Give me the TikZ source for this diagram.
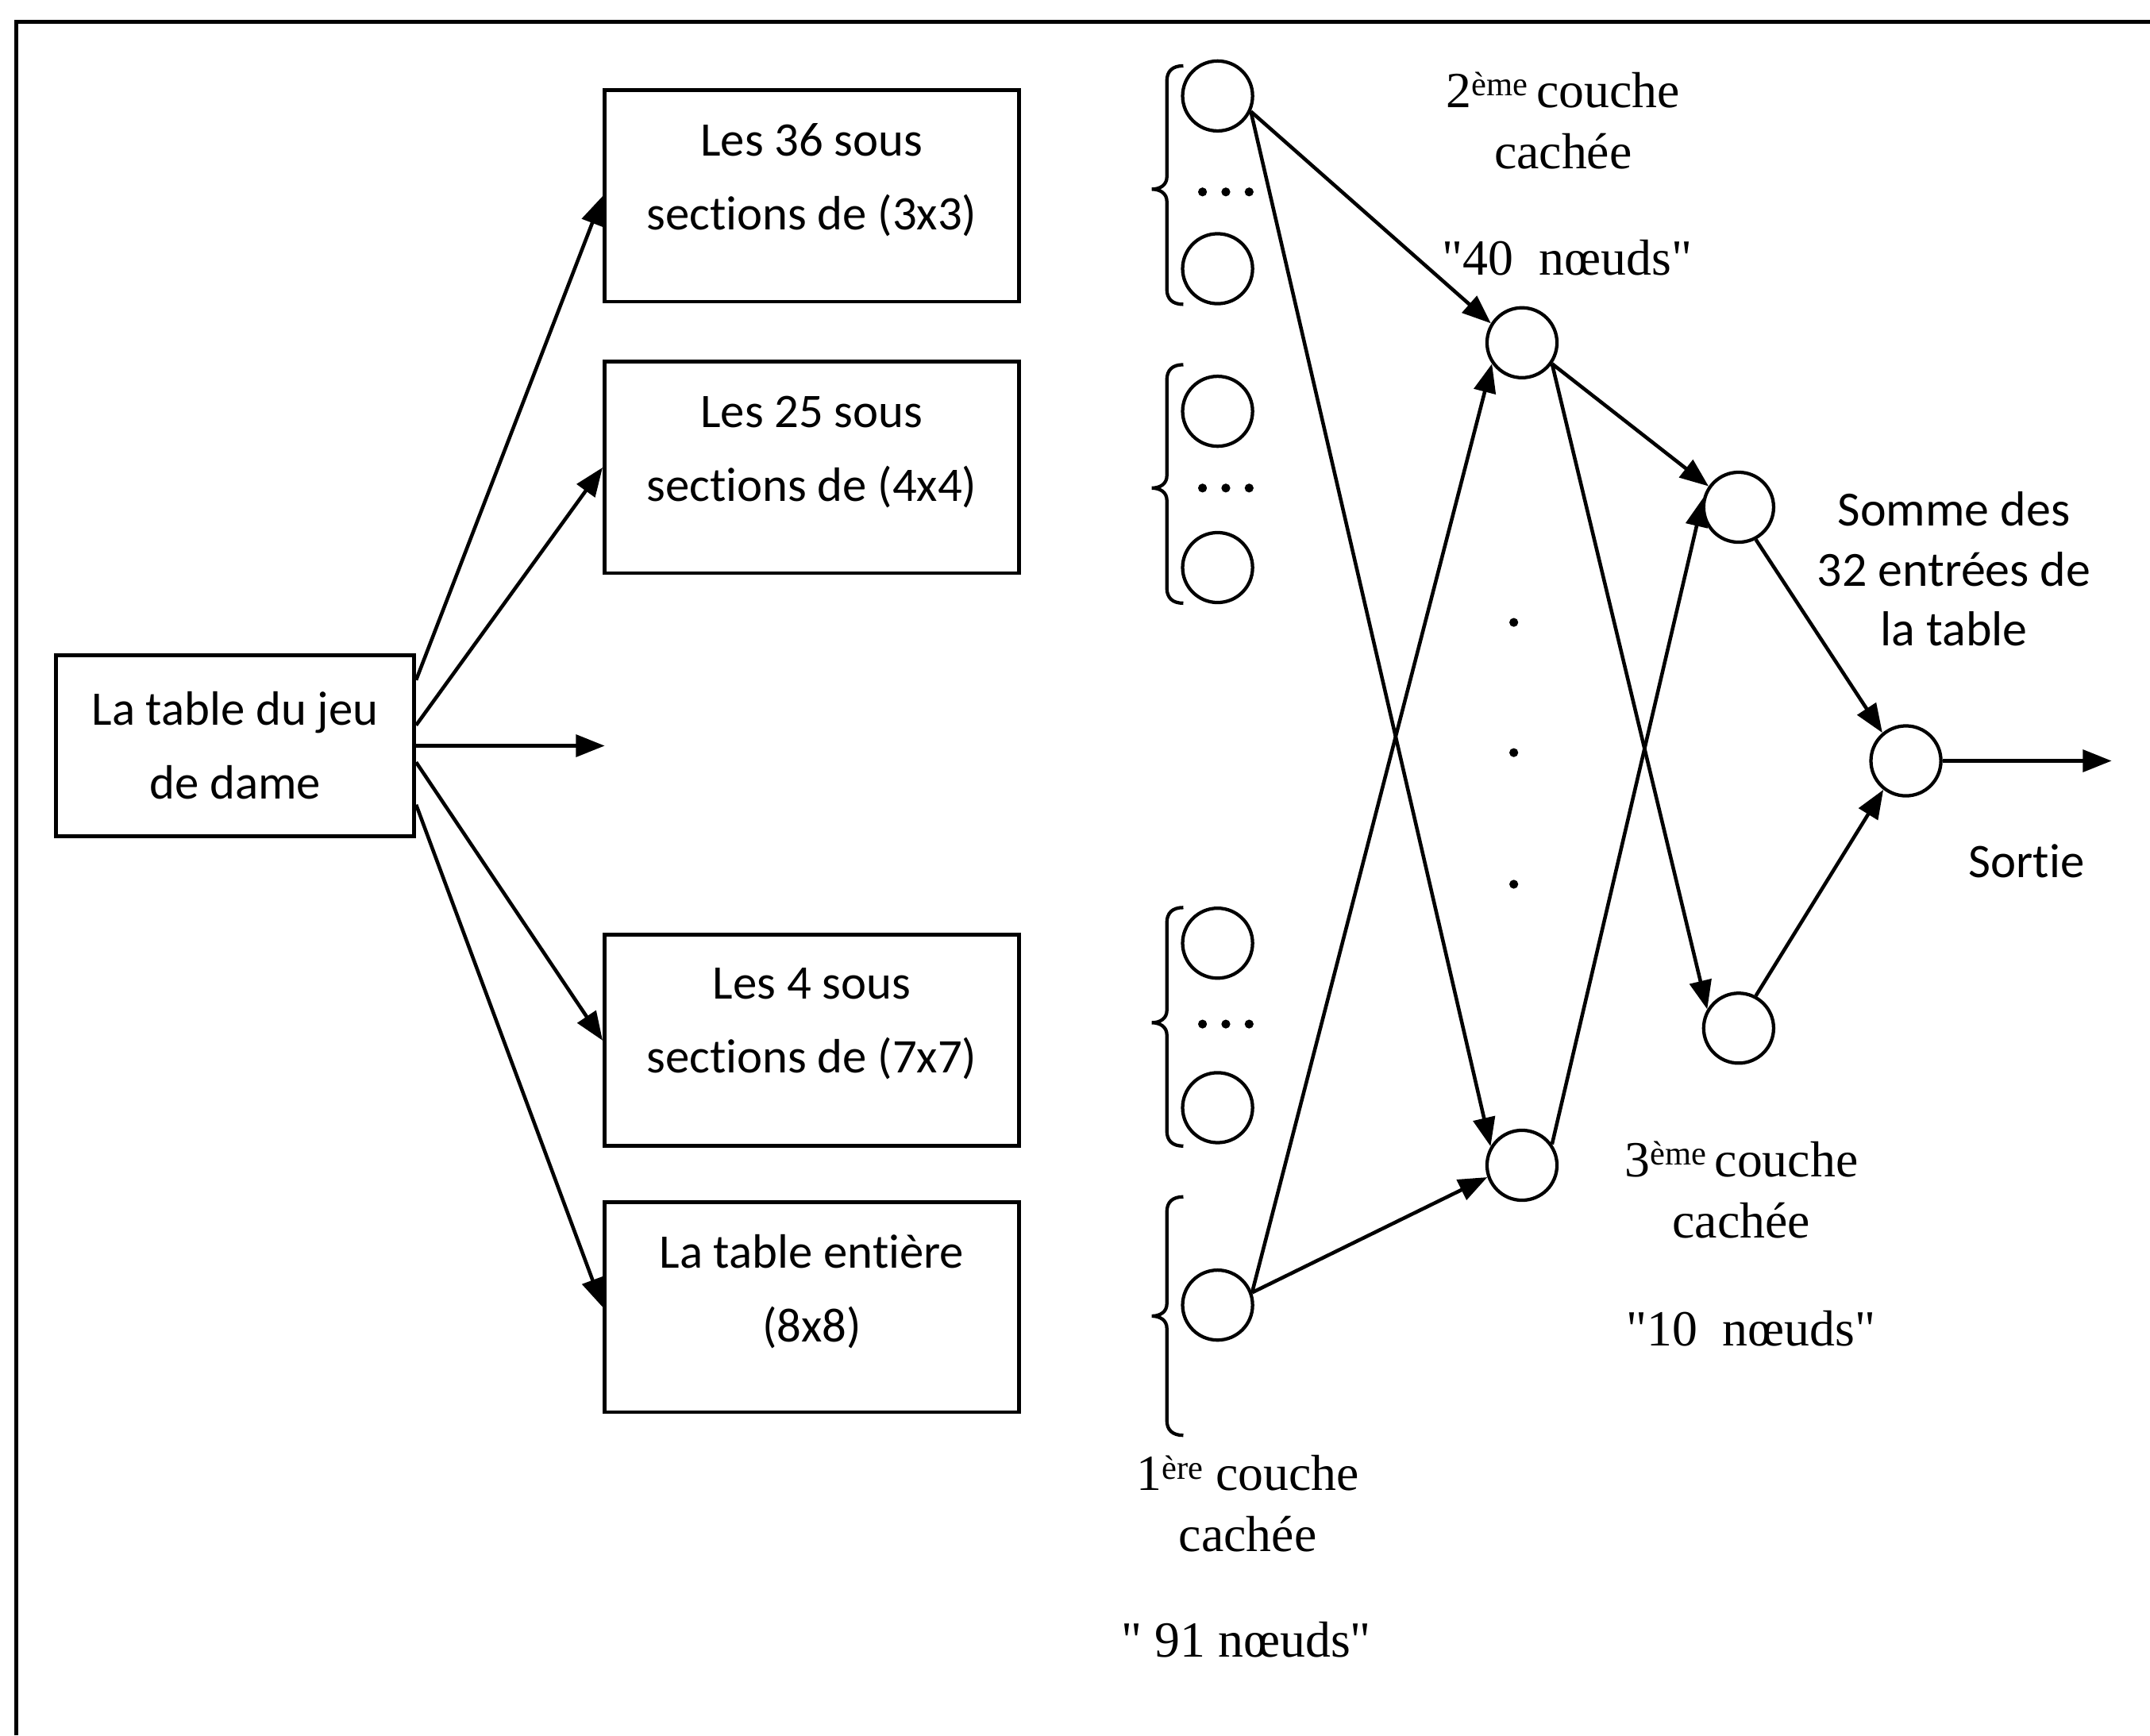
\documentclass[tikz,border=0pt]{standalone}
\usepackage{fontspec}
\setmainfont{Liberation Serif}
\newfontfamily\serifplain{Liberation Serif}
\newfontfamily\calib[Ligatures=NoCommon]{Carlito}
\usetikzlibrary{arrows.meta,calc}
\tikzset{
  box/.style={draw, line width=0.8pt, minimum width=3.02cm, minimum height=1.54cm, inner sep=0pt},
  neuron/.style={draw, circle, line width=0.7pt, minimum size=0.51cm, inner sep=0pt},
  conn/.style={line width=0.75pt, -{Triangle[length=0.21cm,width=0.16cm]}},
  sanstxt/.style={font=\calib\fontsize{10}{15.3}\selectfont, align=center, inner sep=0pt},
  sanstxtb/.style={font=\calib\fontsize{10.2}{12.4}\selectfont, align=center, inner sep=0pt},
  seriftxt/.style={font=\serifplain\fontsize{10.5}{12.7}\selectfont, align=center, inner sep=0pt},
  bracestyle/.style={line width=0.7pt},
  smalldot/.style={fill, circle, inner sep=0pt, minimum size=0.065cm}
}
\newcommand\inbrace[3]{%
  \draw[bracestyle] (863,#1) .. controls (855,#1) and (851,#1+4) .. (851,#1+11)
    -- (851,#2-9) .. controls (851,#2-3) and (846,#2) .. (840,#2)
    .. controls (846,#2) and (851,#2+3) .. (851,#2+9)
    -- (851,#3-11) .. controls (851,#3-4) and (855,#3) .. (863,#3);}
\newcommand\supx[1]{\raisebox{0.5ex}{\fontsize{7}{7}\selectfont #1}}
\begin{document}
\begin{tikzpicture}[x=0.01cm,y=-0.01cm]
\useasboundingbox (0,0) rectangle (1568,1266);
% frame (cropped on the right and bottom)
\draw[line width=0.9pt] (12,1266) -- (12,16) -- (1568,16);

% input boxes
\node[box, minimum width=2.61cm, minimum height=1.32cm] (main) at (171.5,544) {};
\node[sanstxt] (tmain) at (171.5,544) {La table du jeu\\de dame};

\node[box] (b1) at (592,143) {};
\node[sanstxt] (t1) at (592,131) {Les 36 sous\\sections de (3x3)};
\node[box] (b2) at (592,341) {};
\node[sanstxt] (t2) at (592,330) {Les 25 sous\\sections de (4x4)};
\node[box] (b3) at (592,759) {};
\node[sanstxt] (t3) at (592,747) {Les 4 sous\\sections de (7x7)};
\node[box, minimum height=1.53cm] (b4) at (592,953.5) {};
\node[sanstxt] (t4) at (592,942) {La table entière\\(8x8)};

\coordinate (midend) at (441,544);

\draw[conn] ($(main.east)+(0,-48)$) -- (b1.west);
\draw[conn] ($(main.east)+(0,-15)$) -- (b2.west);
\draw[conn] (main.east) -- (midend);
\draw[conn] ($(main.east)+(0,12)$) -- (b3.west);
\draw[conn] ($(main.east)+(0,43)$) -- (b4.west);

% first hidden layer
\node[neuron] (c1) at (888,70) {};
\node[neuron] (c2) at (888,196) {};
\node[neuron] (c3) at (888,300) {};
\node[neuron] (c4) at (888,414) {};
\node[neuron] (c5) at (888,688) {};
\node[neuron] (c6) at (888,808) {};
\node[neuron] (c7) at (888,952) {};

\foreach \yy/\nm in {140/a,356/b,747/c}{
  \node[smalldot] (d\nm1) at (877,\yy) {};
  \node[smalldot] (d\nm2) at (894,\yy) {};
  \node[smalldot] (d\nm3) at (911,\yy) {};
}

\inbrace{48}{138}{222}
\inbrace{266}{356}{440}
\inbrace{662}{746}{836}
\inbrace{873}{960}{1047}

% second and third hidden layers, output
\node[neuron] (h2a) at (1110,250) {};
\node[neuron] (h2b) at (1110,850) {};
\node[smalldot] (v1) at (1104,454) {};
\node[smalldot] (v2) at (1104,549) {};
\node[smalldot] (v3) at (1104,645) {};
\node[neuron] (h3a) at (1268,370) {};
\node[neuron] (h3b) at (1268,750) {};
\node[neuron] (out) at (1390,555) {};
\coordinate (outend) at (1540,555);

\draw[conn] (c1.-25) -- (h2a.148);
\draw[conn] (c1.-25) -- (h2b.149);
\draw[conn] (c7.20) -- (h2a.-145);
\draw[conn] (c7.20) -- (h2b.199);
\draw[conn] (h2a.-35) -- (h3a.145);
\draw[conn] (h2a.-35) -- (h3b.149);
\draw[conn] (h2b.35) -- (h3a.165);
\draw[conn] (h3a.-62) -- (out.130);
\draw[conn] (h3b.62) -- (out.-128);
\draw[conn] (out.east) -- (outend);

% labels
\node[seriftxt] (l2) at (1140,88) {2\supx{ème}\,couche\\cachée};
\node[seriftxt] (n2) at (1143,188) {"40~~nœuds"};
\node[sanstxtb] (somme) at (1425,415) {Somme des\\32 entrées de\\la table};
\node[sanstxt] (sortie) at (1478,628) {Sortie};
\node[seriftxt] (l3) at (1270,868) {3\supx{ème}\,couche\\cachée};
\node[seriftxt] (n3) at (1277,969) {"10~~nœuds"};
\node[seriftxt] (l1) at (910,1097) {1\supx{ère} couche\\cachée};
\node[seriftxt] (n1) at (909,1196) {"~91 nœuds"};
\end{tikzpicture}
\end{document}
